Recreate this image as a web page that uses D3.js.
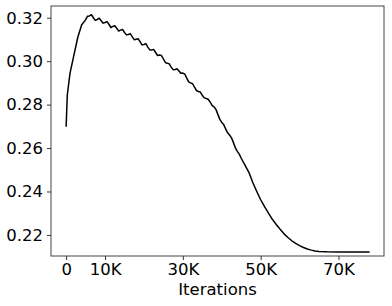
<!DOCTYPE html>
<html>
<head>
<meta charset="utf-8">
<script src="https://cdn.jsdelivr.net/npm/d3@7"></script>
<style>
  html, body { margin: 0; padding: 0; background: #fff; }
  svg { display: block; font-family: "DejaVu Sans", sans-serif; }
</style>
</head>
<body>
<div id="chart"></div>
<script>
// Iterations (thousands) and loss values
const iterK = [0, 0.3, 1, 2, 3, 4, 5, 5.5, 6, 6.5, 7, 7.5, 8, 8.5, 9, 9.5, 10, 10.5, 11, 11.5,
  12, 12.5, 13, 13.5, 14, 14.5, 15, 15.5, 16, 16.5, 17, 17.5, 18, 18.5, 19, 19.5, 20, 20.5,
  21, 21.5, 22, 22.5, 23, 23.5, 24, 24.5, 25, 25.5, 26, 26.5, 27, 27.5, 28, 28.5, 29, 29.5,
  30, 30.5, 31, 31.5, 32, 32.5, 33, 33.5, 34, 34.5, 35, 35.5, 36, 36.5, 37, 37.5, 38, 38.5,
  39, 39.5, 40, 40.5, 41, 41.5, 42, 42.5, 43, 43.5, 44, 44.5, 45, 46, 47, 48, 49, 50, 51,
  52, 53, 54, 55, 56, 57, 58, 59, 60, 61, 62, 63, 64, 65, 67, 70, 78];
const loss = [0.2698, 0.2844, 0.2945, 0.3028, 0.3110, 0.3168, 0.3190, 0.3207, 0.3208, 0.3214,
  0.3200, 0.3188, 0.3192, 0.3198, 0.3186, 0.3175, 0.3178, 0.3182, 0.3170, 0.3155,
  0.3160, 0.3163, 0.3152, 0.3139, 0.3143, 0.3146, 0.3132, 0.3121, 0.3123, 0.3127,
  0.3112, 0.3099, 0.3101, 0.3103, 0.3090, 0.3075, 0.3077, 0.3081, 0.3065, 0.3052,
  0.3052, 0.3054, 0.3040, 0.3026, 0.3028, 0.3026, 0.3010, 0.2994, 0.2990, 0.2988,
  0.2972, 0.2961, 0.2962, 0.2965, 0.2955, 0.2944, 0.2945, 0.2940, 0.2922, 0.2905,
  0.2900, 0.2896, 0.2880, 0.2865, 0.2860, 0.2858, 0.2843, 0.2831, 0.2828, 0.2825,
  0.2812, 0.2796, 0.2790, 0.2778, 0.2755, 0.2732, 0.2718, 0.2708, 0.2688, 0.2670,
  0.2660, 0.2647, 0.2625, 0.2601, 0.2585, 0.2572, 0.2553, 0.2520, 0.2487, 0.2440,
  0.2400, 0.2362, 0.2330, 0.2300, 0.2272, 0.2248, 0.2226, 0.2205, 0.2188, 0.2173,
  0.2161, 0.2151, 0.2142, 0.2135, 0.2130, 0.2126, 0.2124, 0.2122, 0.2121, 0.2121];

const xTicks = [0, 10000, 30000, 50000, 70000];
const xTickLabels = ['0', '10K', '30K', '50K', '70K'];
const yTicks = [0.22, 0.24, 0.26, 0.28, 0.30, 0.32];
const xLabel = 'Iterations';

const width = 392;
const height = 306;
const margin = { top: 6, right: 8, bottom: 50, left: 51 };
const fontSize = 16.5;

const data = iterK.map((k, i) => ({ it: k * 1000, v: loss[i] }));

const svg = d3.select('#chart')
  .append('svg')
  .attr('width', width)
  .attr('height', height);

const x = d3.scaleLinear()
  .domain([-3890, 81700])
  .range([margin.left, width - margin.right]);

const y = d3.scaleLinear()
  .domain([0.2103, 0.3254])
  .range([height - margin.bottom, margin.top]);

// X axis
svg.append('g')
  .attr('transform', `translate(0,${height - margin.bottom})`)
  .call(d3.axisBottom(x).tickValues(xTicks).tickFormat((d, i) => xTickLabels[i]).tickSize(4).tickPadding(3))
  .call(g => g.select('.domain').remove())
  .call(g => g.selectAll('.tick line').attr('stroke', '#333'))
  .call(g => g.selectAll('text').attr('font-size', fontSize).attr('fill', '#000').attr('font-family', '"DejaVu Sans", sans-serif'));

// Y axis
svg.append('g')
  .attr('transform', `translate(${margin.left},0)`)
  .call(d3.axisLeft(y).tickValues(yTicks).tickFormat(d3.format('.2f')).tickSize(4).tickPadding(4))
  .call(g => g.select('.domain').remove())
  .call(g => g.selectAll('.tick line').attr('stroke', '#333'))
  .call(g => g.selectAll('text').attr('font-size', fontSize).attr('fill', '#000').attr('font-family', '"DejaVu Sans", sans-serif'));

// Frame
svg.append('rect')
  .attr('x', margin.left)
  .attr('y', margin.top)
  .attr('width', width - margin.left - margin.right)
  .attr('height', height - margin.top - margin.bottom)
  .attr('fill', 'none')
  .attr('stroke', '#444')
  .attr('stroke-width', 1);

// Loss line
const line = d3.line()
  .x(d => x(d.it))
  .y(d => y(d.v));

svg.append('path')
  .datum(data)
  .attr('fill', 'none')
  .attr('stroke', '#000')
  .attr('stroke-width', 1.5)
  .attr('stroke-linejoin', 'round')
  .attr('d', line);

// Axis label
svg.append('text')
  .attr('x', (margin.left + width - margin.right) / 2)
  .attr('y', 295)
  .attr('text-anchor', 'middle')
  .attr('font-size', fontSize)
  .text(xLabel);
</script>
</body>
</html>
